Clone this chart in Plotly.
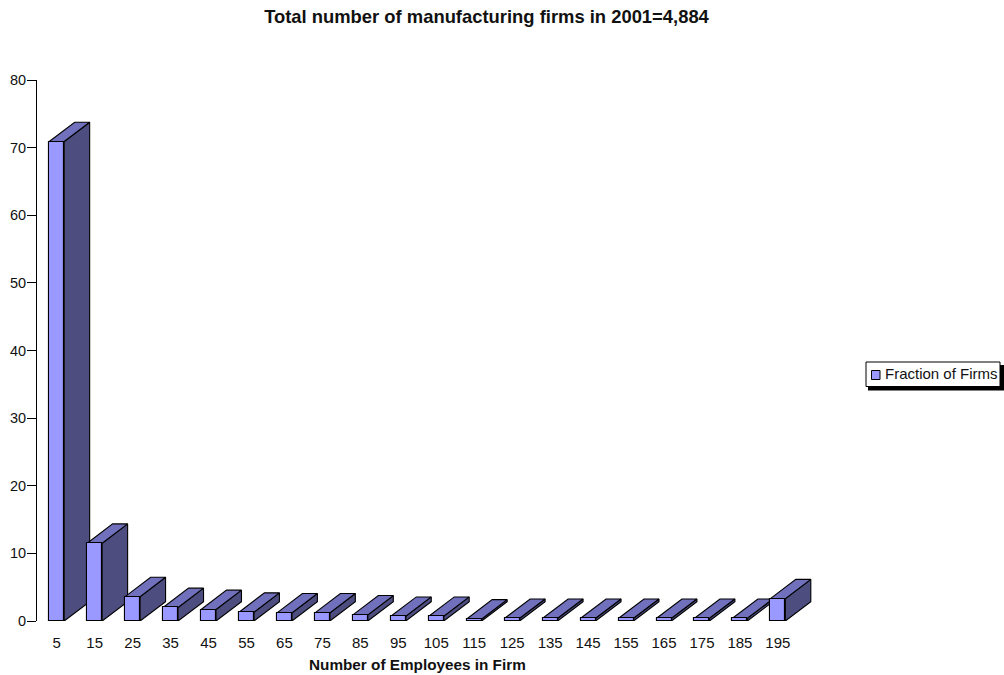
import plotly.graph_objects as go

# Share of firms (percent) in each employee-count bin
bin_centers = [5, 15, 25, 35, 45, 55, 65, 75, 85, 95, 105, 115, 125, 135, 145, 155, 165, 175, 185, 195]
fractions = [70.9, 11.5, 3.6, 2.0, 1.7, 1.3, 1.2, 1.2, 0.9, 0.7, 0.7, 0.3, 0.4, 0.4, 0.4, 0.4, 0.4, 0.4, 0.4, 3.3]
y_ticks = [0, 10, 20, 30, 40, 50, 60, 70, 80]

TITLE = "Total number of manufacturing firms in 2001=4,884"
X_TITLE = "Number of Employees in Firm"
SERIES = "Fraction of Firms"

# Extruded-bar geometry, in axis units
BAR_WIDTH = 3.95
DEPTH_X = 6.7
DEPTH_Y = 2.86

FRONT = "#9999FF"
TOP = "#7070BC"
SIDE = "#4D4D80"
INK = "#000000"
FONT = "Liberation Sans, Arial, sans-serif"

# Plot rectangle in page pixels; the x range runs past the last bin to leave room for its depth
W, H = 1004, 675
L, R, T, B = 37, 872, 80, 621
axis_range_x = [-0.2, 219.8]
axis_range_y = [0, 80]


def px(x):
    return (x - L) / (R - L)


def py(y):
    return (B - y) / (B - T)


fig = go.Figure()

# Side and top faces go left to right so nearer bars cover farther ones
for c, v in zip(bin_centers, fractions):
    xl, xr = c - BAR_WIDTH / 2, c + BAR_WIDTH / 2
    fig.add_trace(go.Scatter(
        x=[xr, xr + DEPTH_X, xr + DEPTH_X, xr, xr],
        y=[0, DEPTH_Y, v + DEPTH_Y, v, 0],
        mode="lines", fill="toself", fillcolor=SIDE,
        line=dict(color=INK, width=1.1),
        showlegend=False, hoverinfo="skip",
    ))
    fig.add_trace(go.Scatter(
        x=[xl, xl + DEPTH_X, xr + DEPTH_X, xr, xl],
        y=[v, v + DEPTH_Y, v + DEPTH_Y, v, v],
        mode="lines", fill="toself", fillcolor=TOP,
        line=dict(color=INK, width=1.1),
        showlegend=False, hoverinfo="skip",
    ))

# Front faces sit on an overlaid pair of axes so they stay above every side face
fig.add_trace(go.Bar(
    x=bin_centers, y=fractions, width=BAR_WIDTH, name=SERIES,
    marker=dict(color=FRONT, line=dict(color=INK, width=1.1)),
    xaxis="x2", yaxis="y2", cliponaxis=False, showlegend=False,
))

# Legend box with its drop shadow
shapes = [
    dict(type="rect", xref="paper", yref="paper", x0=px(868), x1=px(1004), y0=py(390.5), y1=py(365),
         fillcolor=INK, line=dict(width=0)),
    dict(type="rect", xref="paper", yref="paper", x0=px(866), x1=px(1000), y0=py(386.5), y1=py(362),
         fillcolor="#FFFFFF", line=dict(color=INK, width=1)),
    dict(type="rect", xref="paper", yref="paper", x0=px(871.5), x1=px(880), y0=py(379.5), y1=py(370.5),
         fillcolor=FRONT, line=dict(color=INK, width=1)),
]

annotations = [
    dict(text=SERIES, xref="paper", yref="paper", x=px(882.5), y=py(373.5), xanchor="left", yanchor="middle",
         showarrow=False, font=dict(family=FONT, size=15, color="#111111")),
    dict(text=f"<b>{X_TITLE}</b>", xref="x", yref="paper", x=100, y=py(664), xanchor="center", yanchor="middle",
         showarrow=False, font=dict(family=FONT, size=15.3, color="#111111")),
]

fig.update_layout(
    width=W, height=H, autosize=False,
    margin=dict(l=L, r=W - R, t=T, b=H - B, pad=0),
    paper_bgcolor="#FFFFFF", plot_bgcolor="#FFFFFF",
    font=dict(family=FONT, size=15, color="#111111"),
    showlegend=False, bargap=0, shapes=shapes, annotations=annotations,
    title=dict(text=f"<b>{TITLE}</b>", x=486.5 / W, xref="container", xanchor="center",
               y=1 - 17 / H, yref="container", yanchor="middle", automargin=False,
               font=dict(family=FONT, size=18.4, color="#111111")),
    xaxis=dict(
        range=axis_range_x, tickmode="array", tickvals=bin_centers, ticktext=[str(c) for c in bin_centers],
        showgrid=False, zeroline=False, showline=False, automargin=False,
        ticks="outside", ticklen=8, tickcolor="rgba(0,0,0,0)",
        tickfont=dict(size=15),
    ),
    yaxis=dict(
        range=axis_range_y, tickmode="array", tickvals=y_ticks,
        showgrid=False, zeroline=False, showline=True, linecolor=INK, linewidth=1, automargin=False,
        ticks="outside", ticklen=9, tickwidth=1, tickcolor=INK, tickfont=dict(size=14.5),
        ticklabelstandoff=-2,
    ),
    xaxis2=dict(range=axis_range_x, overlaying="x", visible=False),
    yaxis2=dict(range=axis_range_y, overlaying="y", visible=False),
)

fig.write_html("out.html", config=dict(displayModeBar=False))
